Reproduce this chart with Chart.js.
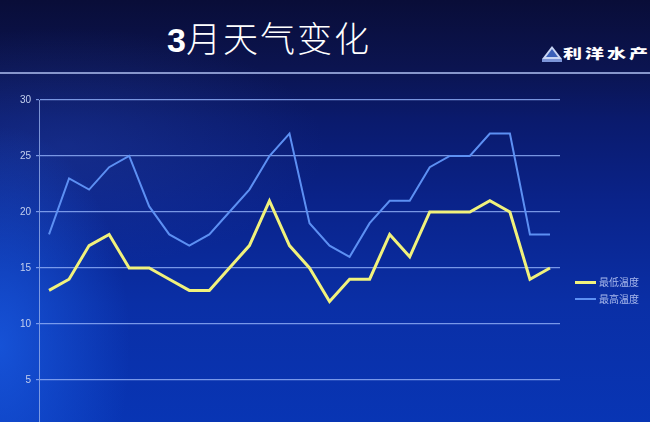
<!DOCTYPE html>
<html>
<head>
<meta charset="utf-8">
<script src="https://cdn.jsdelivr.net/npm/chart.js@4/dist/chart.umd.min.js"></script>
<style>
  html, body { margin:0; padding:0; width:650px; height:422px; overflow:hidden; }
  body {
    position:relative;
    background:
      radial-gradient(ellipse 130px 220px at 0% 82%, rgba(25,90,225,0.8), rgba(25,90,225,0) 100%),
      radial-gradient(ellipse 260px 120px at 10% 35%, rgba(40,70,170,0.35), rgba(40,70,170,0) 100%),
      linear-gradient(180deg, #090d38 0%, #0b1450 16%, #0a1a6c 28%, #0a238a 48%, #0a2fa6 72%, #0835b4 100%);
    font-family: "Noto Sans CJK SC", "Noto Sans", sans-serif;
  }
  #hdrline { position:absolute; left:0; top:72px; width:650px; height:2px; background:#8796cc; }
  #title { position:absolute; left:167px; top:15px; height:44px; line-height:44px; color:#fff; font-size:35px; font-weight:300; letter-spacing:2px; white-space:nowrap; }
  #title .num { font-family:"Liberation Sans", Arial, sans-serif; font-weight:bold; font-size:34px; letter-spacing:0; }
  #logo { position:absolute; left:541px; top:45px; height:18px; white-space:nowrap; }
  #logo .txt { position:absolute; left:22px; top:-4px; color:#fff; font-weight:900; font-size:19px; line-height:24px; letter-spacing:3px; transform:scaleY(0.68); transform-origin:0 50%; }
  #wrap { position:absolute; left:0; top:0; width:650px; height:460px; }
  #legend { position:absolute; left:575px; top:275px; }
  .li { position:relative; height:17px; width:75px; }
  .li .sw { position:absolute; left:0; width:21px; }
  .li .lb { position:absolute; left:24px; top:0; font-size:10px; line-height:14px; color:#a9b9ec; white-space:nowrap; }
</style>
</head>
<body>
<div id="title"><span class="num">3</span>月天气变化</div>
<div id="logo">
  <svg width="22" height="18" viewBox="0 0 22 18" style="position:absolute;left:0;top:0">
    <polygon points="11,1 21,14 1,14" fill="#c9d6f5"/>
    <polygon points="11,4 17,12 5,12" fill="#3a5fb8"/>
    <rect x="1" y="14" width="20" height="3" fill="#7c95d8"/>
  </svg>
  <span class="txt">利洋水产</span>
</div>
<div id="hdrline"></div>
<div id="wrap"><canvas id="c" width="650" height="460"></canvas></div>
<div id="legend"></div>
<script>
const days = ['1','2','3','4','5','6','7','8','9','10','11','12','13','14','15','16','17','18','19','20','21','22','23','24','25','26'];
const lowTemp  = [13,14,17,18,15,15,14,13,13,15,17,21,17,15,12,14,14,18,16,20,20,20,21,20,14,15];
const highTemp = [18,23,22,24,25,20.5,18,17,18,20,22,25,27,19,17,16,19,21,21,24,25,25,27,27,18,18];
const yTicks = [0,5,10,15,20,25,30];
const lowLabel = '最低温度';
const highLabel = '最高温度';

const lowColor = '#f1f27c';
const highColor = '#5d90f3';

const chart = new Chart(document.getElementById('c'), {
  type: 'line',
  data: {
    labels: days,
    datasets: [
      { label: lowLabel, data: lowTemp, borderColor: lowColor, backgroundColor: lowColor, borderWidth: 3, pointRadius: 0, tension: 0, fill: false },
      { label: highLabel, data: highTemp, borderColor: highColor, backgroundColor: highColor, borderWidth: 2, pointRadius: 0, tension: 0, fill: false }
    ]
  },
  options: {
    responsive: false,
    animation: false,
    events: [],
    layout: { autoPadding: false, padding: { top: 100, bottom: 24, left: 0, right: 90 } },
    plugins: { legend: { display: false }, tooltip: { enabled: false }, title: { display: false } },
    scales: {
      x: { display: false, offset: true, grid: { display: false } },
      y: {
        min: yTicks[0], max: yTicks[yTicks.length - 1],
        afterFit: s => { s.width = 39; },
        afterBuildTicks: s => { s.ticks = yTicks.map(v => ({ value: v })); },
        ticks: { color: '#c3cfee', font: { family: 'Liberation Sans, Arial, sans-serif', size: 10 }, padding: 5 },
        grid: { color: 'rgba(140,170,245,0.85)', lineWidth: 1.2, tickLength: 3, drawTicks: true },
        border: { display: true, color: 'rgba(150,175,235,0.8)', width: 1 }
      }
    }
  }
});

const lg = document.getElementById('legend');
chart.data.datasets.forEach(ds => {
  const row = document.createElement('div');
  row.className = 'li';
  const sw = document.createElement('div');
  sw.className = 'sw';
  sw.style.height = ds.borderWidth + 'px';
  sw.style.top = (7 - ds.borderWidth / 2) + 'px';
  sw.style.background = ds.borderColor;
  const lb = document.createElement('div');
  lb.className = 'lb';
  lb.textContent = ds.label;
  row.appendChild(sw); row.appendChild(lb);
  lg.appendChild(row);
});
</script>
</body>
</html>
